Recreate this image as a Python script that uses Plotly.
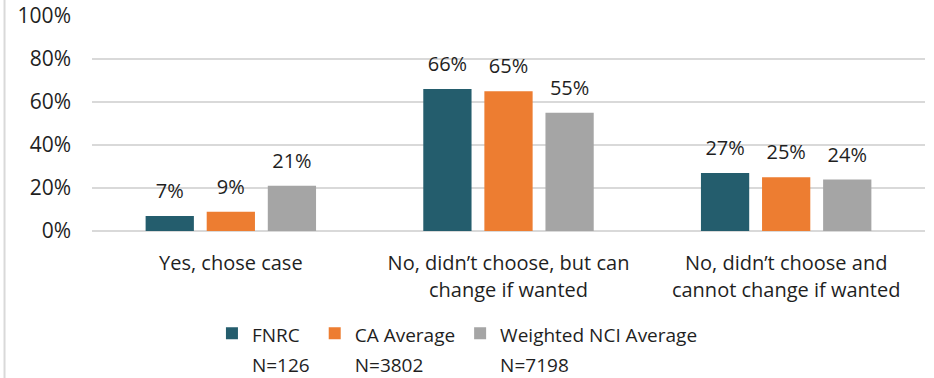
import plotly.graph_objects as go

categories = ["Yes, chose case", "No, didn’t choose, but can<br>change if wanted", "No, didn’t choose and<br>cannot change if wanted"]
series_names = ["FNRC", "CA Average", "Weighted NCI Average"]
series_n = ["N=126", "N=3802", "N=7198"]
fnrc = [7, 66, 27]
ca_avg = [9, 65, 25]
nci_avg = [21, 55, 24]
colors = ["#245D6D", "#ED7D31", "#A5A5A5"]
ytick_vals = [0, 20, 40, 60, 80, 100]
ytick_text = ["0%", "20%", "40%", "60%", "80%", "100%"]

FONT = "Open Sans, sans-serif"
TXT = "#1f1f1f"


def sized(label, px=20):
    return "<br>".join(f"<span style='font-size:{px}px'>{part}</span>" for part in label.split("<br>"))


fig = go.Figure()
all_vals = [fnrc, ca_avg, nci_avg]
for name, n, vals, c in zip(series_names, series_n, all_vals, colors):
    fig.add_trace(go.Bar(
        x=categories, y=vals, name=sized(f"{name}<br>{n}", 19),
        marker=dict(color=c, line=dict(width=0)), hoverinfo="skip",
    ))
for vals in all_vals:
    fig.add_trace(go.Scatter(
        x=categories, y=vals, mode="markers+text", text=[f"{v}%" for v in vals],
        textposition="top center", showlegend=False, hoverinfo="skip", cliponaxis=False,
        marker=dict(size=19, opacity=0), textfont=dict(size=20, color=TXT, family=FONT),
    ))

fig.update_layout(
    width=934, height=378,
    margin=dict(l=92, r=9, t=16, b=147, autoexpand=False),
    paper_bgcolor="white", plot_bgcolor="white",
    barmode="group", bargap=0.34, bargroupgap=0.21,
    scattermode="group", scattergap=0.34,
    font=dict(family=FONT, size=20, color=TXT),
    showlegend=True,
    legend=dict(orientation="h", x=0.144, xref="paper", y=0.175, yref="container",
                xanchor="left", yanchor="top",
                font=dict(size=23, family=FONT, color=TXT), traceorder="normal",
                valign="top"),
    xaxis=dict(showline=False, ticks="", tickfont=dict(size=21.5), automargin=False,
               tickvals=categories, ticktext=[sized(c) for c in categories],
               ticklabelstandoff=16),
    yaxis=dict(range=[0, 100], tickvals=ytick_vals, ticktext=ytick_text,
               showgrid=True, gridcolor="#D9D9D9", gridwidth=2, zeroline=True,
               zerolinecolor="#D9D9D9", zerolinewidth=2, ticks="", ticklabelstandoff=20,
               tickfont=dict(size=21), automargin=False),
    shapes=[dict(type="line", xref="paper", yref="paper", x0=-0.105, x1=-0.105,
                 y0=-0.69, y1=1.08, line=dict(color="#D9D9D9", width=2))],
)
fig.write_html("out.html", config={"displayModeBar": False},
               post_script="document.body.style.margin='0';")
